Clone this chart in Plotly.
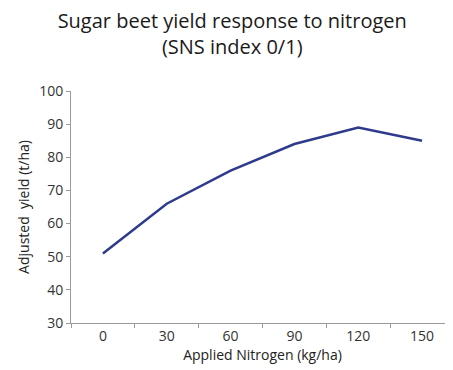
import plotly.graph_objects as go

nitrogen = ["0", "30", "60", "90", "120", "150"]
yield_t = [51, 66, 76, 84, 89, 85]
y_ticks = [30, 40, 50, 60, 70, 80, 90, 100]

fig = go.Figure()
fig.add_trace(go.Scatter(x=nitrogen, y=yield_t, mode="lines",
                         line=dict(color="#2E3A8C", width=2.5)))

font_family = "Open Sans, Noto Sans, sans-serif"
fig.update_layout(
    width=453, height=370,
    margin=dict(l=63, r=7, t=83, b=55),
    paper_bgcolor="white", plot_bgcolor="white",
    showlegend=False,
    font=dict(family=font_family, color="#333333", size=14),
    title=dict(text="Sugar beet yield response to nitrogen<br>(SNS index 0/1)",
               x=0.495, xanchor="center", xref="container", yref="container",
               y=0.945, yanchor="middle",
               font=dict(size=20, color="#1a1a1a", family=font_family)),
    xaxis=dict(type="category", range=[-0.5, 5.5], tickson="boundaries",
               showline=True, linecolor="#9a9a9a", linewidth=1,
               ticks="outside", ticklen=4, tickcolor="#9a9a9a",
               showgrid=False, zeroline=False,
               tickfont=dict(size=14, color="#333333"),
               title=dict(text="Applied Nitrogen (kg/ha)", standoff=6,
                          font=dict(size=14, color="#222222"))),
    yaxis=dict(range=[30, 100], tickvals=y_ticks,
               showline=True, linecolor="#9a9a9a", linewidth=1,
               ticks="outside", ticklen=4, tickcolor="#9a9a9a",
               showgrid=False, zeroline=False,
               tickfont=dict(size=14, color="#333333"),
               title=dict(text="Adjusted  yield (t/ha)", standoff=6,
                          font=dict(size=14, color="#222222"))),
)

fig.write_html("out.html")
